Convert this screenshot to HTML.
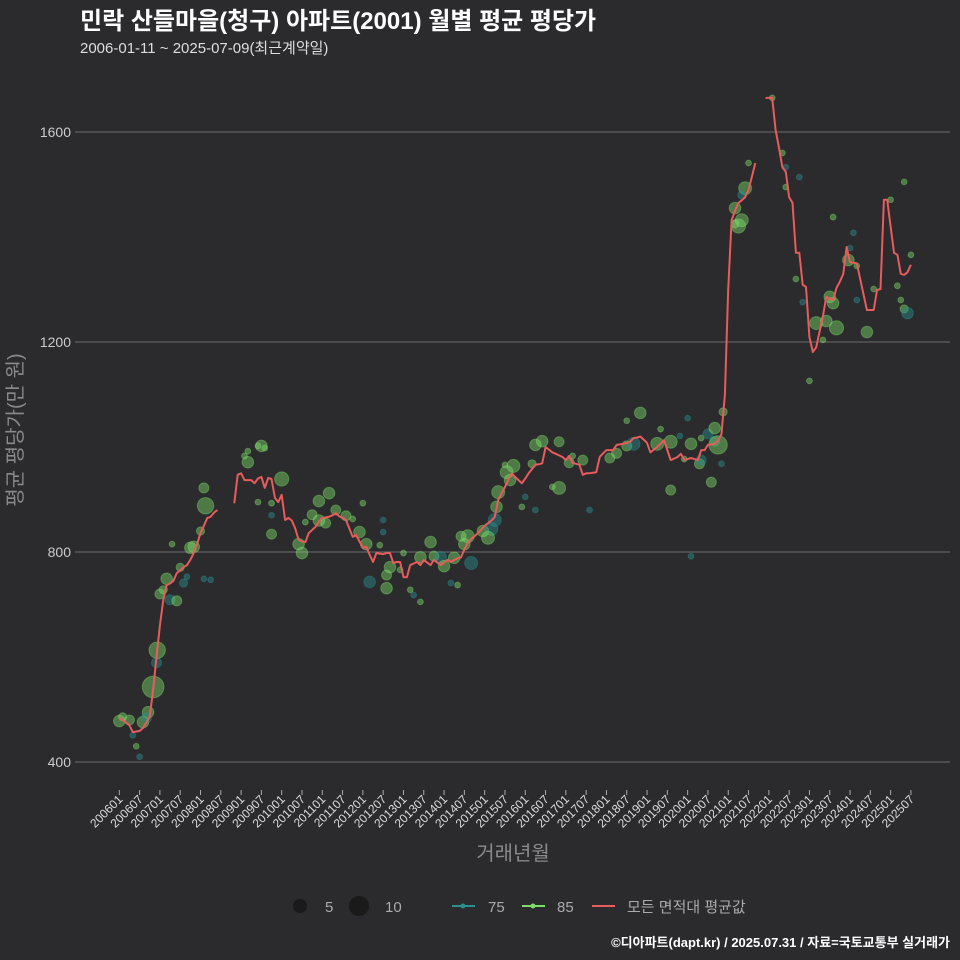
<!DOCTYPE html>
<html><head><meta charset="utf-8">
<style>
html,body{margin:0;padding:0;background:#2b2a2d;}
svg{display:block;font-family:"Liberation Sans","Noto Sans CJK KR",sans-serif;}
</style></head>
<body>
<svg id="chart" width="960" height="960" viewBox="0 0 960 960">
<rect x="0" y="0" width="960" height="960" fill="#2b2a2d"/>
<text x="80" y="29" fill="#ffffff" font-size="24" font-weight="bold">민락 산들마을(청구) 아파트(2001) 월별 평균 평당가</text>
<text x="80" y="53" fill="#dddddd" font-size="15">2006-01-11 ~ 2025-07-09(최근계약일)</text>
<g id="grid"></g>
<g id="yticks"></g>
<g id="xticks"></g>
<g id="points"></g>
<path id="avgline" fill="none" stroke="#e85c5c" stroke-width="2" stroke-linejoin="round"/>
<text transform="translate(22,430) rotate(-90)" text-anchor="middle" fill="#8a8a8a" font-size="20">평균 평당가(만 원)</text>
<text x="513" y="860" text-anchor="middle" fill="#8a8a8a" font-size="20">거래년월</text>
<g>
  <g><circle cx="300" cy="906" r="7" fill="#1a1a1a"/><text x="325" y="912" fill="#aaaaaa" font-size="15">5</text></g>
  <g><circle cx="359" cy="906" r="10" fill="#1a1a1a"/><text x="385" y="912" fill="#aaaaaa" font-size="15">10</text></g>
  <g><line x1="452" y1="906" x2="475" y2="906" stroke="#2a8f8f" stroke-width="2"/><circle cx="463" cy="906" r="2.5" fill="#2a8f8f"/><text x="488" y="912" fill="#aaaaaa" font-size="15">75</text></g>
  <g><line x1="522" y1="906" x2="545" y2="906" stroke="#7ddc6a" stroke-width="2"/><circle cx="533" cy="906" r="2.5" fill="#7ddc6a"/><text x="557" y="912" fill="#aaaaaa" font-size="15">85</text></g>
  <g><line x1="592" y1="906" x2="615" y2="906" stroke="#e85c5c" stroke-width="2"/><text x="627" y="912" fill="#aaaaaa" font-size="15">모든 면적대 평균값</text></g>
</g>
<text x="950" y="947" text-anchor="end" fill="#ffffff" font-size="13" font-weight="bold">©디아파트(dapt.kr) / 2025.07.31 / 자료=국토교통부 실거래가</text>
</svg>
<script>
const yTicks=[400,800,1200,1600];
const startYear=2006,startMonth=1,monthCount=235;
const avgValues=[484,480,475,470,457,458,459,465,475,486,537,600,660,709,737,740,745,760,765,771,775,785,798,815,836,850,865,867,875,880,
null,null,null,null,
893,947,950,937,937,937,931,940,943,922,941,939,903,895,909,861,865,860,845,823,820,819,836,842,848,858,865,866,867,870,874,868,865,861,845,829,832,820,808,810,795,781,798,797,796,798,798,779,781,781,752,752,775,778,781,775,785,780,775,785,780,775,780,785,781,785,788,790,805,817,825,830,836,843,850,855,860,867,899,912,924,938,950,943,937,931,940,950,958,966,967,969,1000,995,990,987,984,981,975,983,970,968,966,947,950,950,951,952,981,988,994,994,994,1004,1005,1006,1008,1010,1017,1018,1020,1014,1008,990,995,1000,1006,1013,994,975,978,981,987,975,977,979,977,975,994,994,1004,1005,1006,1012,1025,1100,1300,1432,1450,1465,1470,1476,1490,1515,1541,
null,null,
1665,1665,1665,1604,1570,1533,1524,1476,1465,1370,1370,1309,1305,1210,1181,1190,1220,1250,1286,1282,1280,1303,1315,1330,1381,1352,1351,1350,1320,1290,1261,1261,1261,1299,1301,1471,1471,1420,1370,1366,1330,1328,1333,1347];
// scatter: month index, price, count, area type
const ptMonth=[0,1,3,4,5,6,7,8.5,8,10,11,11.2,12,13,14,15,15.6,17,18,19,20,21,22,24,25,25,25.5,27,38,37,38,42,41,43,41,45,45,48,45,53,54,55,59,57,59,61,62,64,67,69,72,71,73,74,78,78,77,79,80,79,83,84,86,89,87,89,92,93,95,96,99,100,104,98,102,103,101,107.5,111,110,109,111.5,112,114.5,114,116.5,115.5,122,123,125,120,123,119,128,130,130,134,133,137,139,145,147,150,152,154,150,160,163,163,159,167,165.7,168,169,169,171.5,172,172,174,175,176,176,177,178.5,178,182,184,183,182,185,184,186,193,196,197,197,201,200,202,204,206,208,209,210,211,212,211,217,216,215.5,218,218,221,223,228,232,230,231,232,233,234];
const ptValue=[478,486,480,451,430,410,476,495,484,543,589,613,720,728,749,709,815,707,771,741,753,808,810,840,749,922,888,747,992,983,971,1002,1002,998,895,893,870,939,834,815,798,857,897,871,860,855,912,880,869,863,893,838,815,743,861,838,813,756,771,731,766,798,728,705,718,790,819,792,790,773,789,737,779,741,815,830,830,840,861,844,827,886,914,952,966,964,937,968,1004,1011,905,880,886,924,922,1010,983,970,975,880,979,988,1002,1006,1065,1050,1034,918,1010,1006,977,1021,1055,792,1006,968,975,1017,1025,933,1036,1011,1004,1067,968,1455,1432,1421,1425,1493,1480,1541,1665,1560,1533,1495,1514,1320,1276,1126,1236,1204,1240,1286,1274,1227,1438,1408,1379,1356,1345,1280,1219,1301,1471,1505,1307,1280,1263,1255,1366];
const ptCount=[4,2,3,1,1,1,4,4,3,14,3,8,3,2,4,3,1,3,2,2,1,4,4,2,1,3,8,1,1,1,4,4,1,1,1,1,1,6,3,4,4,1,4,3,4,3,4,3,3,1,1,4,4,4,1,1,1,3,4,4,1,1,1,1,1,4,4,3,4,4,4,1,5,1,4,5,3,4,5,5,5,4,5,5,1,5,4,2,4,4,1,1,1,1,5,3,1,3,3,1,3,3,3,5,4,1,1,3,5,5,1,1,1,1,4,3,3,1,3,3,4,3,10,2,1,4,5,6,2,5,2,1,1,1,1,1,1,1,1,1,5,1,4,4,4,6,1,1,1,4,1,1,4,1,1,1,1,1,2,4,1];
const ptType=[85,85,85,75,85,75,85,85,75,85,75,85,85,85,85,75,85,85,85,75,75,85,85,85,75,85,85,75,85,85,85,85,85,85,85,85,75,85,85,85,85,85,85,85,85,85,85,85,85,85,85,85,85,75,75,75,85,85,85,85,85,85,85,85,75,85,85,85,75,85,85,85,75,75,85,85,85,85,75,75,85,85,85,85,85,85,85,85,85,85,75,75,85,85,85,85,85,85,85,75,85,85,85,75,85,85,85,85,85,85,85,75,75,75,85,85,75,85,75,85,85,75,85,85,75,85,85,85,85,85,75,85,85,85,75,85,75,85,75,85,85,85,85,85,85,85,85,75,75,85,85,75,85,85,85,85,85,85,85,75,85,85];

const NS="http://www.w3.org/2000/svg";
function xScale(i){return 119.3+i*3.383;}
function yScale(v){return 762-(v-400)*0.525;}

const grid=document.getElementById('grid'),yt=document.getElementById('yticks'),xt=document.getElementById('xticks');
yTicks.forEach(v=>{
  const l=document.createElementNS(NS,'line');
  
  
  l.setAttribute('x1',75);l.setAttribute('x2',950);l.setAttribute('y1',yScale(v));l.setAttribute('y2',yScale(v));
  l.setAttribute('stroke','#6e6e6e');l.setAttribute('stroke-width','1');
  grid.appendChild(l);
  const t=document.createElementNS(NS,'text');
  
  
  t.setAttribute('x',71);t.setAttribute('y',yScale(v)+5);t.setAttribute('text-anchor','end');
  t.setAttribute('fill','#cccccc');t.setAttribute('font-size','14');t.textContent=v;
  yt.appendChild(t);
});
for(let i=0;i<monthCount;i+=6){
  const y=startYear+Math.floor((startMonth-1+i)/12),m=(startMonth-1+i)%12+1;
  const lab=y+String(m).padStart(2,'0');
  const x=xScale(i);
  const tk=document.createElementNS(NS,'line');
  
  
  tk.setAttribute('x1',x);tk.setAttribute('x2',x);tk.setAttribute('y1',790);tk.setAttribute('y2',795);
  tk.setAttribute('stroke','#aaaaaa');
  xt.appendChild(tk);
  const t=document.createElementNS(NS,'text');
  
  
  t.setAttribute('transform','translate('+(x+4)+',800) rotate(-45)');
  t.setAttribute('text-anchor','end');t.setAttribute('fill','#dddddd');t.setAttribute('font-size','12');
  t.textContent=lab;
  xt.appendChild(t);
}
const pg=document.getElementById('points');
for(let k=0;k<ptMonth.length;k++){
  const c=document.createElementNS(NS,'circle');
  
  
  c.setAttribute('cx',xScale(ptMonth[k]));c.setAttribute('cy',yScale(ptValue[k]));
  c.setAttribute('r',2.9*Math.sqrt(ptCount[k]));
  const col=ptType[k]===75?'#2a8f8f':'#7ddc6a';
  c.setAttribute('fill',col);c.setAttribute('fill-opacity','0.45');
  c.setAttribute('stroke',col);c.setAttribute('stroke-opacity','0.4');
  pg.appendChild(c);
}
let d='',pen=false;
avgValues.forEach((v,i)=>{
  if(v===null){pen=false;return;}
  d+=(pen?'L':'M')+xScale(i).toFixed(1)+','+yScale(v).toFixed(1);pen=true;
});
document.getElementById('avgline').setAttribute('d',d);
</script>
</body></html>
